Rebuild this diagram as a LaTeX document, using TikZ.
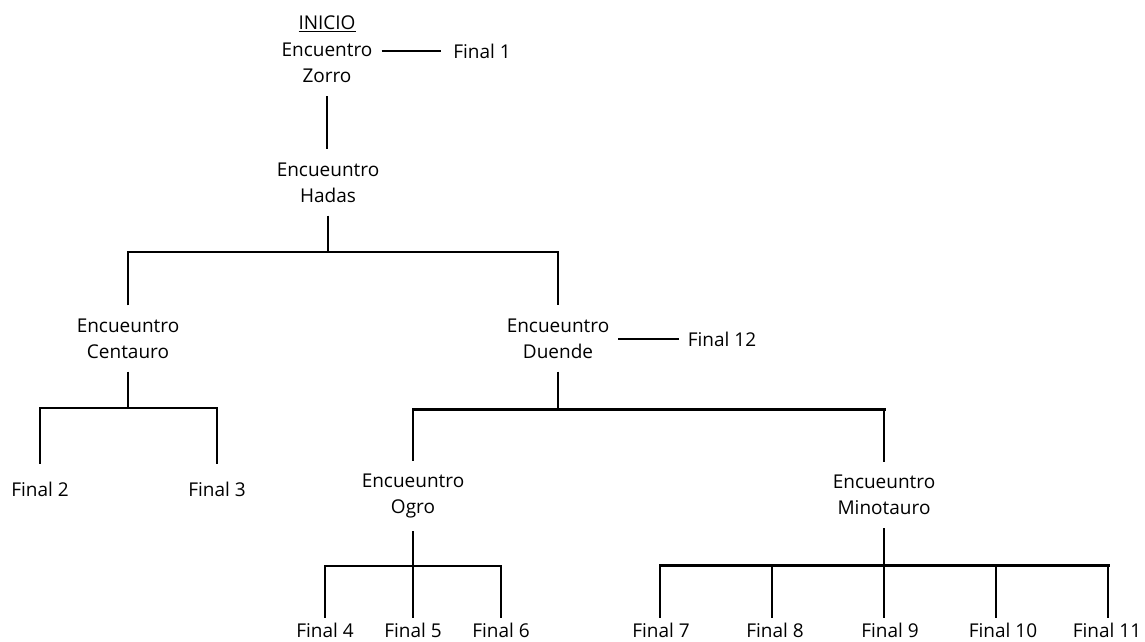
\documentclass[tikz,border=0pt]{standalone}
\usepackage{fontspec}
\setmainfont{Open Sans}
\begin{document}
\begin{tikzpicture}[x=1pt,y=-1pt,
  every node/.style={font=\fontsize{19}{26}\selectfont, text=black},
  enc/.style={align=center, inner xsep=9pt, inner ysep=13pt},
  fin/.style={inner sep=5pt},
  link/.style={line width=2.2pt, black},
  thinlink/.style={line width=1.6pt, black},
  bar/.style={line width=3pt, black, line cap=rect}]
\useasboundingbox (0,0) rectangle (1145,641);

% nodes
\node (inicio) at (327,24) {\underline{INICIO}};
\node[enc] (zorro) at (327,63) {Encuentro\\Zorro};
\node[fin] (f1) at (482,51) {Final 1};
\node[enc] (hadas) at (328,182.5) {Encueuntro\\Hadas};
\node[enc] (cent) at (128,338.5) {Encueuntro\\Centauro};
\node[enc] (duende) at (558,338.5) {Encueuntro\\Duende};
\node[fin] (f12) at (722,339) {Final 12};
\node[fin] (f2) at (40,489) {Final 2};
\node[fin] (f3) at (217,489) {Final 3};
\node[enc] (ogro) at (413,496) {Encueuntro\\Ogro};
\node[enc] (mino) at (884,495) {Encueuntro\\Minotauro};
\node[fin] (f4) at (325,630) {Final 4};
\node[fin] (f5) at (413,630) {Final 5};
\node[fin] (f6) at (501,630) {Final 6};
\node[fin] (f7) at (661,630) {Final 7};
\node[fin] (f8) at (775,630) {Final 8};
\node[fin] (f9) at (890,630) {Final 9};
\node[fin] (f10) at (1003,630) {Final 10};
\node[fin] (f11) at (1107,630) {Final 11};

% junction levels
\coordinate (jh) at (0,252);
\coordinate (jc) at (0,408);
\coordinate (jd) at (0,409);
\coordinate (jo) at (0,566);
\coordinate (m7) at (660,565);
\coordinate (m8) at (772,565);
\coordinate (m9) at (884,565);
\coordinate (m10) at (996,565);
\coordinate (m11) at (1108,565);

% connectors
\draw[link, shorten >=7pt] (zorro.east |- f1.west) -- (f1.west);
\draw[link] (zorro.south) -- (zorro.south |- hadas.north);
\draw[link] (hadas.south) -- (hadas.south |- jh);
\draw[link] (cent.north) -- (cent.north |- jh) -- (duende.north |- jh) -- (duende.north);

\draw[link] (cent.south) -- (cent.south |- jc);
\draw[link, shorten <=13pt, shorten >=13pt] (f2.north) -- (f2.north |- jc) -- (f3.north |- jc) -- (f3.north);

\draw[thinlink, shorten >=4pt] (duende.east |- f12.west) -- (f12.west);
\draw[link] (duende.south) -- (duende.south |- jd);
\draw[bar] (ogro.north |- jd) -- (mino.north |- jd);
\draw[link] (ogro.north |- jd) -- (ogro.north);
\draw[link] (mino.north |- jd) -- (mino.north);

\draw[link] (ogro.south) -- (ogro.south |- f5.north);
\draw[link] (f4.north) -- (f4.north |- jo) -- (f6.north |- jo) -- (f6.north);

\draw[link] (mino.south) -- (mino.south |- f9.north);
\draw[bar] (m7) -- (m11);
\draw[link] (m7) -- (m7 |- f7.north);
\draw[link] (m8) -- (m8 |- f8.north);
\draw[link] (m10) -- (m10 |- f10.north);
\draw[link] (m11) -- (m11 |- f11.north);
\end{tikzpicture}
\end{document}
